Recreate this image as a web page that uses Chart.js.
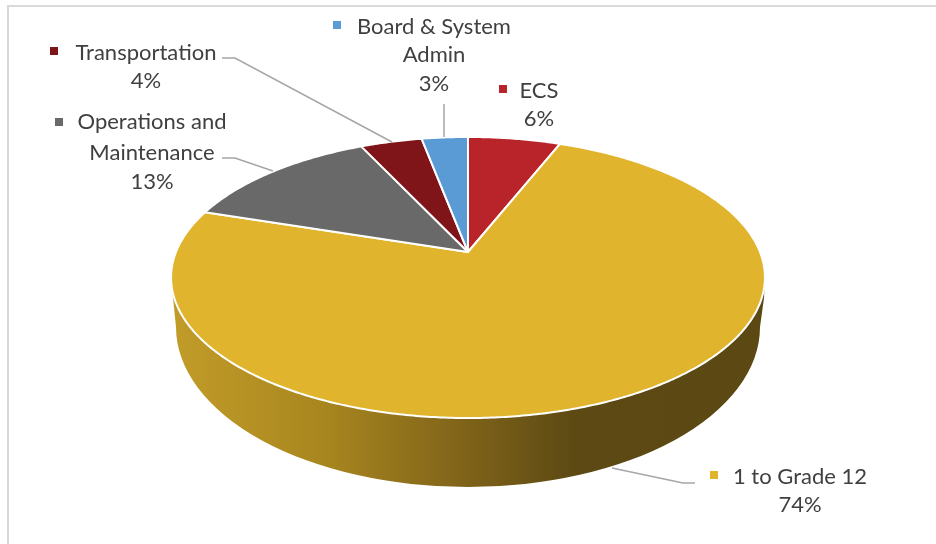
<!DOCTYPE html>
<html>
<head>
<meta charset="utf-8">
<style>
  html, body { margin: 0; padding: 0; background: #fff; }
  #wrap { position: absolute; left: 0; top: 0; width: 936px; height: 544px; }
</style>
<script src="https://cdn.jsdelivr.net/npm/chart.js@4"></script>
</head>
<body>
<div id="wrap"><canvas id="pie" width="936" height="544"></canvas></div>
<script>
const categories = ['ECS', '1 to Grade 12', 'Operations and Maintenance', 'Transportation', 'Board & System Admin'];
const shares = [6, 74, 13, 4, 3];
const sliceColors = ['#B9232A', '#E0B42D', '#696969', '#7F1419', '#5B9BD5'];

// where each label goes: text lines, line centres, marker box, leader line
const labelLayout = [
    { lines: ['ECS'], cx: [539], y: [91, 119], box: [499, 85], leader: null },
    { lines: ['1 to Grade 12'], cx: [800], y: [477, 505], box: [710, 471], leader: [[612, 468], [683, 483], [695, 483]] },
    { lines: ['Operations and', 'Maintenance'], cx: [152, 152], y: [122, 153, 182], box: [55, 118], leader: [[222, 158], [235, 158], [273, 171]] },
    { lines: ['Transportation'], cx: [146], y: [53, 81], box: [50, 47], leader: [[222, 58], [235, 58], [392, 142]] },
    { lines: ['Board & System', 'Admin'], cx: [434, 434], y: [27, 55, 84], box: [333, 21], leader: [[444, 104], [444, 137]] },
];

// tilted disc: apex of the slices sits above the middle of the rim ellipse
const apexX = 468;
const apexY = 252;
const tilt = 0.1815;
const scaleX = 292;
const scaleY = 135.9;

const project = (angle) => {
    const u = Math.cos(angle);
    const v = Math.sin(angle);
    const w = 1 - tilt * v;
    return [apexX + (scaleX * u) / w, apexY + (scaleY * v) / w];
};

// slices keep their angles from the chart but are drawn on the tilted disc
Chart.ArcElement.prototype.draw = function (ctx) {
    const { startAngle, endAngle } = this.getProps(['startAngle', 'endAngle']);
    const steps = Math.max(8, Math.ceil((endAngle - startAngle) / 0.01));
    ctx.save();
    ctx.beginPath();
    ctx.moveTo(apexX, apexY);
    for (let i = 0; i <= steps; i++) {
        const p = project(startAngle + ((endAngle - startAngle) * i) / steps);
        ctx.lineTo(p[0], p[1]);
    }
    ctx.closePath();
    ctx.fillStyle = this.options.backgroundColor;
    ctx.fill();
    ctx.strokeStyle = this.options.borderColor;
    ctx.lineWidth = this.options.borderWidth;
    ctx.lineJoin = 'round';
    ctx.stroke();
    ctx.restore();
};

const wallPlugin = {
    id: 'wall',
    beforeDatasetsDraw(chart) {
        const ctx = chart.ctx;
        const grad = ctx.createLinearGradient(172, 0, 766, 0);
        grad.addColorStop(0, '#C29C29');
        grad.addColorStop(0.25, '#A9871F');
        grad.addColorStop(0.5, '#7E6219');
        grad.addColorStop(0.68, '#5C4913');
        grad.addColorStop(1, '#5B4813');
        ctx.save();
        ctx.beginPath();
        ctx.moveTo(173, 298);
        ctx.lineTo(176, 327);
        ctx.ellipse(468, 327, 292, 160, 0, Math.PI, 0, true);
        ctx.lineTo(764, 298);
        ctx.ellipse(468, 277.5, 297, 140.5, 0, 0, Math.PI);
        ctx.closePath();
        ctx.fillStyle = grad;
        ctx.fill();
        ctx.restore();
    },
};

const labelPlugin = {
    id: 'pieLabels',
    afterDatasetsDraw(chart) {
        const ctx = chart.ctx;
        ctx.save();
        // frame
        ctx.strokeStyle = '#D9D9D9';
        ctx.lineWidth = 2;
        ctx.beginPath();
        ctx.moveTo(8, 544);
        ctx.lineTo(8, 6);
        ctx.lineTo(936, 6);
        ctx.stroke();
        ctx.font = '22px Lato';
        ctx.textAlign = 'center';
        ctx.textBaseline = 'middle';
        labelLayout.forEach((item, i) => {
            if (item.leader) {
                ctx.strokeStyle = '#A6A6A6';
                ctx.lineWidth = 1.5;
                ctx.beginPath();
                item.leader.forEach((p, k) => (k ? ctx.lineTo(p[0], p[1]) : ctx.moveTo(p[0], p[1])));
                ctx.stroke();
            }
            ctx.fillStyle = sliceColors[i];
            ctx.fillRect(item.box[0], item.box[1], 8, 8);
            ctx.fillStyle = '#404040';
            item.lines.forEach((line, k) => ctx.fillText(line, item.cx[k], item.y[k]));
            ctx.fillText(shares[i] + '%', item.cx[0], item.y[item.lines.length]);
        });
        ctx.restore();
    },
};

new Chart(document.getElementById('pie').getContext('2d'), {
    type: 'pie',
    data: {
        labels: categories,
        datasets: [{
            data: shares,
            backgroundColor: sliceColors,
            borderColor: '#FFFFFF',
            borderWidth: 2,
        }],
    },
    options: {
        responsive: false,
        animation: false,
        plugins: { legend: { display: false }, tooltip: { enabled: false } },
    },
    plugins: [wallPlugin, labelPlugin],
});
</script>
</body>
</html>
